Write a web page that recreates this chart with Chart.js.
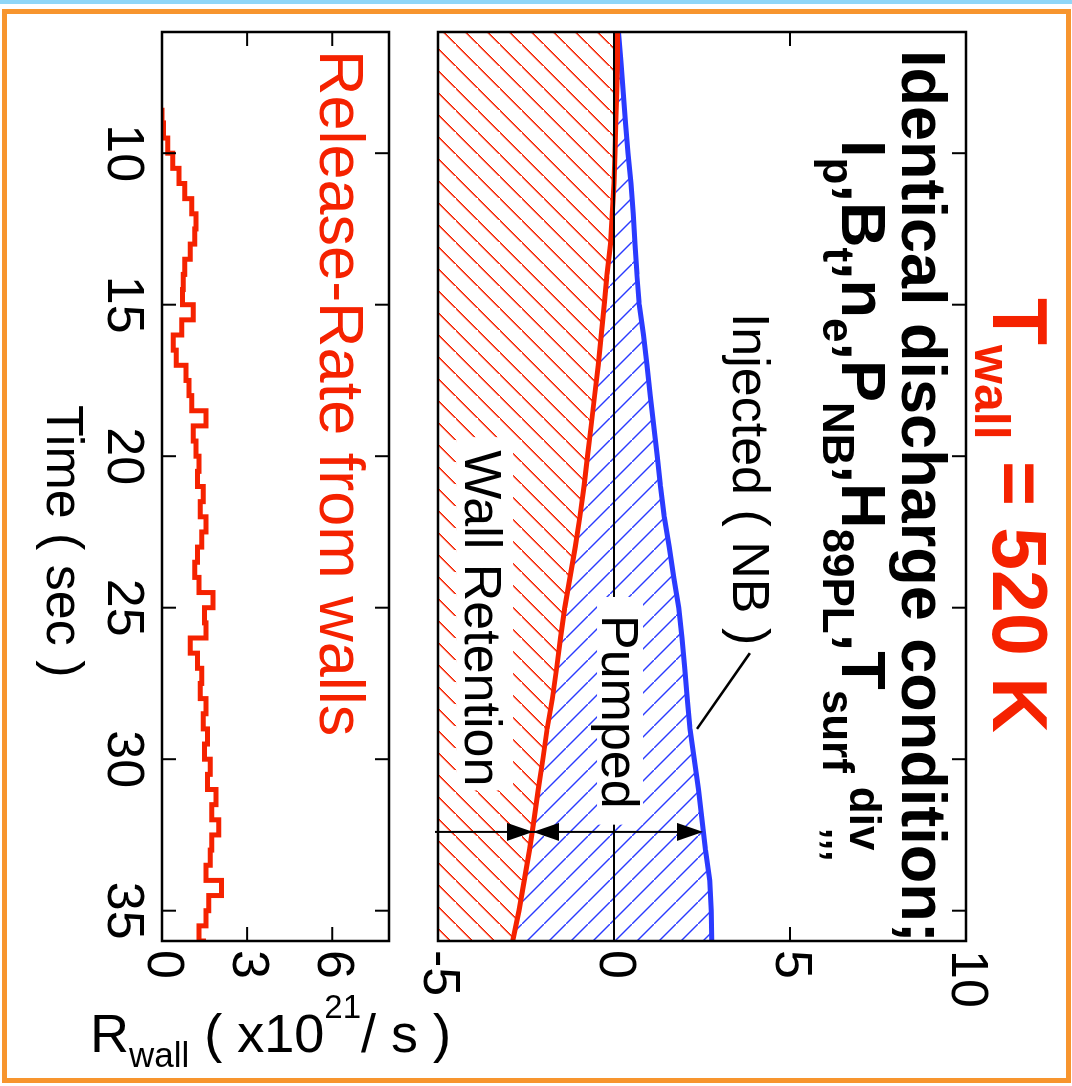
<!DOCTYPE html>
<html><head><meta charset="utf-8">
<script src="https://cdn.jsdelivr.net/npm/chart.js@4/dist/chart.umd.min.js"></script>
<style>
html,body{margin:0;padding:0;background:#fff;width:1072px;height:1086px;overflow:hidden;}
#topline{position:absolute;left:0;top:0;width:1072px;height:4px;background:#8fd6f7;}
#frame{position:absolute;left:2px;top:9px;width:1069px;height:1074px;box-sizing:border-box;border:5px solid #f7952e;}
#fig{position:absolute;left:0;top:0;width:1086px;height:1072px;transform-origin:0 0;transform:translate(1072px,0) rotate(90deg);}
#c1{position:absolute;left:0;top:0;}
#c2{position:absolute;left:0;top:600px;}
</style></head>
<body>
<div id="topline"></div><div id="frame"></div>
<div id="fig"><canvas id="c1" width="1086" height="700"></canvas><canvas id="c2" width="1086" height="472"></canvas></div>
<script>
// ---------- data ----------
const TIME = [6,7,8,9,10,11,12,13,14,15,16,17,18,19,20,21,22,23,24,25,26,27,28,29,30,31,32,33,34,35,36];
const RETENTION = [0.1,0.1,0.08,0.05,0.03,0,-0.05,-0.1,-0.2,-0.28,-0.36,-0.45,-0.55,-0.65,-0.75,-0.85,-0.97,-1.1,-1.25,-1.4,-1.52,-1.63,-1.75,-1.9,-2.02,-2.15,-2.27,-2.4,-2.55,-2.7,-2.88];
const INJECTED = [0.13,0.2,0.26,0.33,0.4,0.48,0.55,0.6,0.65,0.72,0.84,0.94,1.03,1.13,1.23,1.32,1.43,1.57,1.7,1.84,1.93,2.01,2.08,2.16,2.28,2.4,2.5,2.6,2.72,2.76,2.78];
const RELEASE_TIME = [8.5,9,9.5,10,10.5,11,11.5,12,12.5,13,13.5,14,14.5,15,15.5,16,16.5,17,17.5,18,18.5,19,19.5,20,20.5,21,21.5,22,22.5,23,23.5,24,24.5,25,25.5,26,26.5,27,27.5,28,28.5,29,29.5,30,30.5,31,31.5,32,32.5,33,33.5,34,34.5,35,35.5,36];
const RELEASE_RATE = [0,0.05,0.2,0.38,0.6,0.8,1.05,1.2,1.15,1.0,0.8,0.75,0.72,1.1,0.7,0.4,0.5,0.85,0.95,1.05,1.55,1.1,1.2,1.3,1.25,1.45,1.35,1.55,1.4,1.25,1.15,1.3,1.8,1.5,1.55,1.0,1.25,1.4,1.35,1.55,1.45,1.6,1.5,1.7,1.6,1.9,1.75,2.0,1.75,1.7,1.55,2.1,1.65,1.55,1.3,1.55];
const TIME_TICKS = [10,15,20,25,30,35];
const BALANCE_TICKS = [-5,0,5,10];
const RATE_TICKS = [0,3,6];
// arrow marking the balance at one instant (time, retention, injected)
const ARROW_T = 32.4, ARROW_RET = -2.3, ARROW_INJ = 2.53;
const LEADER = [[29.0,2.36],[26.5,3.86]];

// ---------- styles ----------
const FONT = '"Liberation Sans", Arial, Helvetica, sans-serif';
const RED = '#f52200', BLUE = '#2b3bff';
const TICK_LEN = 14;

function makeHatch(ctx, color, dir){
  const s = 22, c = document.createElement('canvas');
  c.width = s; c.height = s;
  const g = c.getContext('2d');
  g.fillStyle = color;
  for (let i = 0; i < s; i++) {
    const yy = dir > 0 ? s - 1 - i : i;
    g.fillRect(i, yy, 1.5, 1.5);
  }
  return ctx.createPattern(c, 'repeat');
}
function seg(ctx,x1,y1,x2,y2){ctx.beginPath();ctx.moveTo(x1,y1);ctx.lineTo(x2,y2);ctx.stroke();}
function rich(ctx, x, y, parts, color){
  ctx.fillStyle = color; ctx.textBaseline = 'alphabetic'; ctx.textAlign = 'left';
  for (const p of parts){
    ctx.font = (p.b ? 'bold ' : '') + p.size + 'px ' + FONT;
    ctx.fillText(p.t, x + (p.dx||0), y + (p.dy||0));
    x += (p.dx||0) + ctx.measureText(p.t).width;
  }
  return x;
}
function frameTicks(chart, yTicks, xTop, xBottom){
  const {ctx, chartArea:a, scales:{x,y}} = chart;
  ctx.save();
  ctx.strokeStyle = '#000'; ctx.lineWidth = 2;
  for (const t of TIME_TICKS){
    const px = x.getPixelForValue(t);
    if (xTop) seg(ctx, px, a.top, px, a.top + TICK_LEN);
    if (xBottom) seg(ctx, px, a.bottom, px, a.bottom - TICK_LEN);
  }
  for (const v of yTicks){
    const py = y.getPixelForValue(v);
    seg(ctx, a.left, py, a.left + TICK_LEN, py);
    seg(ctx, a.right, py, a.right - TICK_LEN, py);
  }
  ctx.lineWidth = 2.5;
  ctx.strokeRect(a.left, a.top, a.right - a.left, a.bottom - a.top);
  ctx.restore();
}
function arrowHead(ctx, x, tipY, dir){ // dir -1: points to smaller y
  const L = 26, W = 9;
  ctx.beginPath();
  ctx.moveTo(x, tipY);
  ctx.lineTo(x - W, tipY - dir * L);
  ctx.lineTo(x + W, tipY - dir * L);
  ctx.closePath(); ctx.fill();
}

const LABEL_FONT = '52px ' + FONT;
const LABELS = [
  {text:'Injected ( NB )', t:15.27, v:3.38, box:null},
  {text:'Pumped', t:25.24, v:-0.34, box:[18,16,41,5]},
  {text:'Wall Retention', t:19.8, v:-4.23, box:[13,4,48,9]}
];

const upperDecor = {
  id:'upperDecor',
  afterDatasetsDraw(chart){
    const {ctx, chartArea:a, scales:{x,y}} = chart;
    ctx.save();
    ctx.strokeStyle = '#000'; ctx.lineWidth = 2;
    const y0 = y.getPixelForValue(0);
    seg(ctx, a.left, y0, a.right, y0);
    ctx.font = LABEL_FONT; ctx.textBaseline = 'alphabetic'; ctx.textAlign = 'left';
    for (const L of LABELS){
      const px = x.getPixelForValue(L.t), py = y.getPixelForValue(L.v);
      const w = ctx.measureText(L.text).width;
      if (L.box){
        ctx.fillStyle = '#fff';
        ctx.fillRect(px - L.box[0], py - L.box[2], w + L.box[0] + L.box[1], L.box[2] + L.box[3]);
      }
      ctx.fillStyle = '#000';
      ctx.fillText(L.text, px, py);
    }
    ctx.lineWidth = 2.5;
    seg(ctx, x.getPixelForValue(LEADER[0][0]), y.getPixelForValue(LEADER[0][1]),
             x.getPixelForValue(LEADER[1][0]), y.getPixelForValue(LEADER[1][1]));
    const ax = x.getPixelForValue(ARROW_T);
    const yr = y.getPixelForValue(ARROW_RET), yi = y.getPixelForValue(ARROW_INJ);
    ctx.lineWidth = 2;
    seg(ctx, ax, a.bottom + 3, ax, yi + 4);
    ctx.fillStyle = '#000';
    arrowHead(ctx, ax, yr, -1);
    arrowHead(ctx, ax, yr, 1);
    arrowHead(ctx, ax, yi, -1);
    ctx.restore();
  },
  afterDraw(chart){
    frameTicks(chart, BALANCE_TICKS, true, false);
    const ctx = chart.ctx;
    ctx.save();
    rich(ctx, 298, 79, [
      {t:'T', size:77, b:true},
      {t:'wall', size:50, b:true, dy:18},
      {t:' = 520 K', size:77, b:true}
    ], RED);
    rich(ctx, 50, 170, [{t:'Identical discharge condition;', size:63, b:true}], '#000');
    const M = 63, S = 44, D = 19;
    rich(ctx, 140, 230, [
      {t:'I', size:M, b:true}, {t:'p', size:S, b:true, dy:D}, {t:',', size:M, b:true},
      {t:'B', size:M, b:true}, {t:'t', size:S, b:true, dy:D}, {t:',', size:M, b:true},
      {t:'n', size:M, b:true}, {t:'e', size:S, b:true, dy:D}, {t:',', size:M, b:true},
      {t:'P', size:M, b:true}, {t:'NB', size:S, b:true, dy:D}, {t:',', size:M, b:true},
      {t:'H', size:M, b:true}, {t:'89PL', size:S, b:true, dy:D}, {t:',', size:M, b:true},
      {t:'T', size:M, b:true}, {t:'surf', size:S, b:true, dy:D},
      {t:'div', size:S, b:true, dy:-8, dx:14}
    ], '#000');
    rich(ctx, 828, 246, [{t:',,,', size:40, b:true}], '#000');
    ctx.restore();
  }
};

const lowerDecor = {
  id:'lowerDecor',
  afterDraw(chart){
    frameTicks(chart, RATE_TICKS, true, true);
    const ctx = chart.ctx;
    ctx.save();
    rich(ctx, 50, 152, [{t:'Release-Rate from walls', size:63}], RED);
    rich(ctx, 405, 425, [{t:'Time ( sec )', size:52}], '#000');
    ctx.translate(1052, 382);
    ctx.rotate(-Math.PI/2);
    rich(ctx, 0, 0, [
      {t:'R', size:54}, {t:'wall', size:35, dy:15}, {t:' ( x10', size:54},
      {t:'21', size:33, dy:-34}, {t:'/ s )', size:54}
    ], '#000');
    ctx.restore();
  }
};

const ctx1 = document.getElementById('c1').getContext('2d');
const redHatch = makeHatch(ctx1, RED, 1);
const blueHatch = makeHatch(ctx1, BLUE, -1);

const setTicks = arr => (s => { s.ticks = arr.map(v => ({value:v})); });

new Chart(ctx1, {
  type:'line',
  data:{datasets:[
    {label:'Wall Retention', data:TIME.map((t,i)=>({x:t,y:RETENTION[i]})), borderColor:RED, borderWidth:5,
     pointRadius:0, fill:'start', backgroundColor:redHatch, tension:0},
    {label:'Injected ( NB )', data:TIME.map((t,i)=>({x:t,y:INJECTED[i]})), borderColor:BLUE, borderWidth:5,
     pointRadius:0, fill:'-1', backgroundColor:blueHatch, tension:0}
  ]},
  options:{
    responsive:false, animation:false, devicePixelRatio:1,
    layout:{padding:{left:32, top:106, right:0, bottom:0}},
    plugins:{legend:{display:false}, tooltip:{enabled:false}, filler:{drawTime:'beforeDatasetsDraw'}},
    scales:{
      x:{type:'linear', min:6, max:36, afterBuildTicks:setTicks(TIME_TICKS),
         ticks:{display:false}, grid:{display:false, drawTicks:false}, border:{display:false},
         afterFit:s=>{s.height=66;}},
      y:{type:'linear', position:'right', min:-5, max:10, afterBuildTicks:setTicks(BALANCE_TICKS),
         ticks:{font:{family:FONT, size:52}, color:'#000', padding:9, autoSkip:false},
         grid:{display:false, drawTicks:false}, border:{display:false},
         afterFit:s=>{s.width=145;}}
    }
  },
  plugins:[upperDecor]
});

new Chart(document.getElementById('c2').getContext('2d'), {
  type:'line',
  data:{datasets:[
    {label:'Release-Rate from walls', data:RELEASE_TIME.map((t,i)=>({x:t,y:RELEASE_RATE[i]})),
     borderColor:RED, borderWidth:5, pointRadius:0, fill:false, stepped:true}
  ]},
  options:{
    responsive:false, animation:false, devicePixelRatio:1,
    layout:{padding:{left:32, top:83, right:0, bottom:0}},
    plugins:{legend:{display:false}, tooltip:{enabled:false}},
    scales:{
      x:{type:'linear', min:6, max:36, afterBuildTicks:setTicks(TIME_TICKS),
         ticks:{font:{family:FONT, size:52}, color:'#000', padding:8, autoSkip:false, maxRotation:0},
         grid:{display:false, drawTicks:false}, border:{display:false},
         afterFit:s=>{s.height=162;}},
      y:{type:'linear', position:'right', min:0, max:8, afterBuildTicks:setTicks(RATE_TICKS),
         ticks:{font:{family:FONT, size:52}, color:'#000', padding:9, autoSkip:false},
         grid:{display:false, drawTicks:false}, border:{display:false},
         afterFit:s=>{s.width=145;}}
    }
  },
  plugins:[lowerDecor]
});
</script>
</body></html>
